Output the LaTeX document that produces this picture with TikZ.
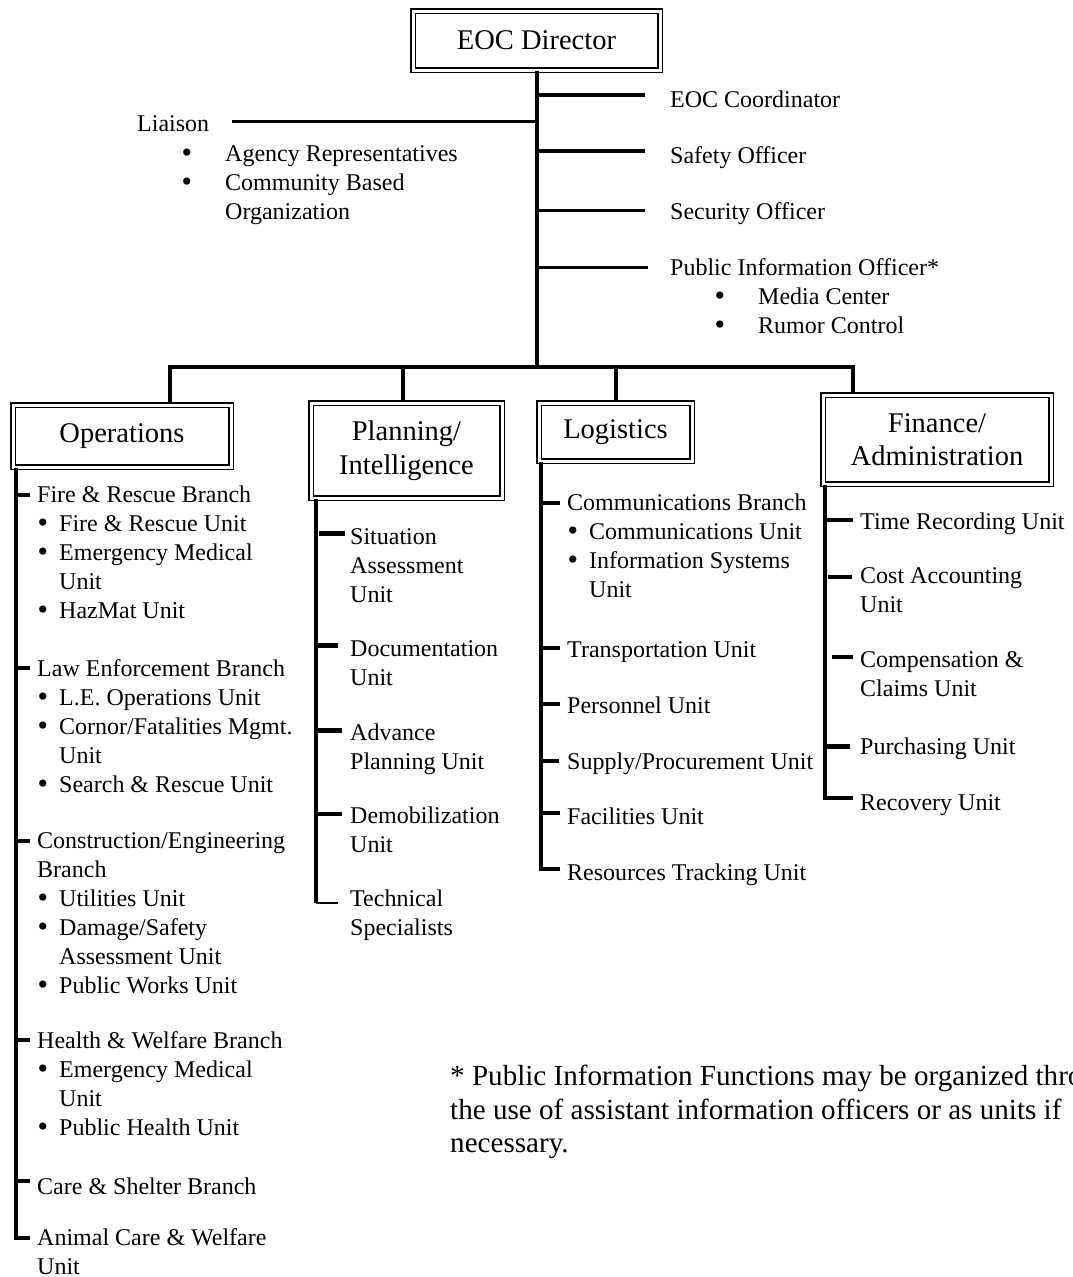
\documentclass[tikz,border=0pt]{standalone}
\usepackage{fontspec}
\setmainfont{Liberation Serif}
\usetikzlibrary{positioning}
\newcommand{\bodyfont}{\fontsize{24}{29}\selectfont}
\newcommand{\boxfont}{\fontsize{28.5}{33.5}\selectfont}
\newcommand{\notefont}{\fontsize{29.1}{33.5}\selectfont}
\newcommand{\bigbul}{\raisebox{-1pt}{\scalebox{1.25}{\textbullet}}}
\newcommand{\itm}{\makebox[22pt][l]{\hspace{0.5pt}\bigbul}}
\newcommand{\cont}{\hspace*{22pt}}
\newcommand{\litm}{\makebox[45pt][l]{\hspace{1.5pt}\bigbul}}

\begin{document}
\begin{tikzpicture}[x=1pt,y=-1pt,
  section/.style={draw, double, double distance=3pt, line width=1.4pt, inner sep=0pt, align=center, font=\boxfont},
  lbl/.style={anchor=north west, inner sep=0pt, align=left, font=\bodyfont, yshift=9pt, execute at begin node=\strut},
  trunk/.style={line width=4pt},
  staffline/.style={line width=4.5pt},
  bar/.style={line width=4.5pt, line join=miter},
  col/.style={line width=4pt, line join=miter},
  stub/.style={line width=4pt},
  thinstub/.style={line width=1.2pt},
]
\useasboundingbox (0,0) rectangle (1072,1277);
\clip (0,0) rectangle (1072,1277);

% director and staff
\node[section, minimum width=247pt, minimum height=59pt] (dir) at (536.5,40.5) {EOC Director};
\coordinate (bar) at (536.5,367);
\draw[trunk] (dir.south) -- (bar);

\node[lbl] (coord) at (670,96) {EOC Coordinator};
\node[lbl] (safety) at (670,152) {Safety Officer};
\node[lbl] (security) at (670,208) {Security Officer};
\node[lbl] (pio) at (670,264) {Public Information Officer*};
\node[lbl] (pioitems) at (713,297) {\litm Media Center\\\litm Rumor Control};
\node[lbl] (liaison) at (137,120) {Liaison};
\node[lbl] (liaisonitems) at (180,154) {\litm Agency Representatives\\\litm Community Based\\\hspace*{45pt}Organization};

\coordinate (c1) at (536.5,95);
\coordinate (c2) at (536.5,151);
\coordinate (c3) at (536.5,210);
\coordinate (c4) at (536.5,267);
\coordinate (lj) at (538,121);
\draw[staffline, shorten >=25pt] (c1) -- (c1 -| coord.west);
\draw[staffline, shorten >=25pt] (c2) -- (c2 -| safety.west);
\draw[line width=3pt, shorten >=25pt] (c3) -- (c3 -| security.west);
\draw[line width=3pt, shorten >=22pt] (c4) -- (c4 -| pio.west);
\draw[line width=3pt, shorten >=23pt] (lj) -- (lj -| liaison.east);

% sections
\node[section, minimum width=218pt, minimum height=62pt] (ops) at (122,436) {Operations};
\node[section, minimum width=191pt, minimum height=95pt] (plan) at (406.5,450.5) {Planning/\\Intelligence};
\node[section, minimum width=153pt, minimum height=58pt] (log) at (615.5,432) {Logistics};
\node[section, minimum width=228pt, minimum height=89pt] (fin) at (937,439.5) {Finance/\\Administration};

\coordinate (barL) at (170,367);
\coordinate (barR) at (853,367);
\draw[bar] (ops.north -| barL) -- (barL) -- (barR) -- (fin.north -| barR);
\draw[trunk] (403,367) -- (plan.north -| 403,0);
\draw[trunk] (616,367) -- (log.north -| 616,0);

% operations
\node[lbl] (fire) at (37,495) {Fire \& Rescue Branch\\\itm Fire \& Rescue Unit\\\itm Emergency Medical\\\cont Unit\\\itm HazMat Unit};
\node[lbl] (law) at (37,668) {Law Enforcement Branch\\\itm L.E. Operations Unit\\\itm Cornor/Fatalities Mgmt.\\\cont Unit\\\itm Search \& Rescue Unit};
\node[lbl] (constr) at (37,841) {Construction/Engineering\\Branch\\\itm Utilities Unit\\\itm Damage/Safety\\\cont Assessment Unit\\\itm Public Works Unit};
\node[lbl] (health) at (37,1040) {Health \& Welfare Branch\\\itm Emergency Medical\\\cont Unit\\\itm Public Health Unit};
\node[lbl] (care) at (37,1183) {Care \& Shelter Branch};
\node[lbl] (animal) at (37,1237) {Animal Care \& Welfare\\Unit};

\coordinate (o1) at (16,495);
\coordinate (o2) at (16,668);
\coordinate (o3) at (16,841);
\coordinate (o4) at (16,1040);
\coordinate (o5) at (16,1181);
\coordinate (o6) at (16,1238);
\draw[col, shorten >=7pt] (ops.south -| o6) -- (o6) -- (o6 -| animal.west);
\draw[stub, shorten >=7pt] (o1) -- (o1 -| fire.west);
\draw[stub, shorten >=7pt] (o2) -- (o2 -| law.west);
\draw[stub, shorten >=7pt] (o3) -- (o3 -| constr.west);
\draw[stub, shorten >=7pt] (o4) -- (o4 -| health.west);
\draw[stub, shorten >=7pt] (o5) -- (o5 -| care.west);

% planning / intelligence
\node[lbl] (sit) at (350,537) {Situation\\Assessment\\Unit};
\node[lbl] (doc) at (350,649) {Documentation\\Unit};
\node[lbl] (adv) at (350,733) {Advance\\Planning Unit};
\node[lbl] (demob) at (350,816) {Demobilization\\Unit};
\node[lbl] (tech) at (350,899) {Technical\\Specialists};

\coordinate (p1) at (319,533);
\coordinate (p2) at (316,645);
\coordinate (p3) at (316,730);
\coordinate (p4) at (316,814);
\coordinate (p5) at (316,903);
\draw[col] (plan.south -| p5) -- (p5);
\draw[line width=5pt, shorten >=5pt] (p1) -- (p1 -| sit.west);
\draw[line width=5pt, shorten >=12pt] (p2) -- (p2 -| doc.west);
\draw[line width=5pt, shorten >=8pt] (p3) -- (p3 -| adv.west);
\draw[stub, shorten >=8pt] (p4) -- (p4 -| demob.west);
\draw[thinstub, shorten >=12pt] (p5) -- (p5 -| tech.west);

% logistics
\node[lbl] (comm) at (567,503) {Communications Branch\\\itm Communications Unit\\\itm Information Systems\\\cont Unit};
\node[lbl] (trans) at (567,646) {Transportation Unit};
\node[lbl] (pers) at (567,702) {Personnel Unit};
\node[lbl] (supply) at (567,758) {Supply/Procurement Unit};
\node[lbl] (fac) at (567,813) {Facilities Unit};
\node[lbl] (res) at (567,869) {Resources Tracking Unit};

\coordinate (l1) at (541,503);
\coordinate (l2) at (541,648);
\coordinate (l3) at (541,704);
\coordinate (l4) at (541,761);
\coordinate (l5) at (541,813);
\coordinate (l6) at (541,869);
\draw[col, shorten >=7pt] (log.south -| l6) -- (l6) -- (l6 -| res.west);
\draw[stub, shorten >=7pt] (l1) -- (l1 -| comm.west);
\draw[stub, shorten >=7pt] (l2) -- (l2 -| trans.west);
\draw[stub, shorten >=7pt] (l3) -- (l3 -| pers.west);
\draw[stub, shorten >=8pt] (l4) -- (l4 -| supply.west);
\draw[stub, shorten >=7pt] (l5) -- (l5 -| fac.west);

% finance / administration
\node[lbl] (time) at (860,518) {Time Recording Unit};
\node[lbl] (cost) at (860,576) {Cost Accounting\\Unit};
\node[lbl] (comp) at (860,660) {Compensation \&\\Claims Unit};
\node[lbl] (purch) at (860,743) {Purchasing Unit};
\node[lbl] (recov) at (860,799) {Recovery Unit};

\coordinate (f1) at (825,520);
\coordinate (f2) at (828,577);
\coordinate (f3) at (832,657);
\coordinate (f4) at (825,746);
\coordinate (f5) at (825,798);
\draw[col, shorten >=7pt] (fin.south -| f5) -- (f5) -- (f5 -| recov.west);
\draw[stub, shorten >=7pt] (f1) -- (f1 -| time.west);
\draw[stub, shorten >=8pt] (f2) -- (f2 -| cost.west);
\draw[stub, shorten >=7pt] (f3) -- (f3 -| comp.west);
\draw[line width=5pt, shorten >=10pt] (f4) -- (f4 -| purch.west);

% footnote
\node[anchor=north west, inner sep=0pt, align=left, font=\notefont, yshift=10pt, execute at begin node=\strut] (note) at (450,1075) {* Public Information Functions may be organized through\\the use of assistant information officers or as units if\\necessary.};
\end{tikzpicture}
\end{document}
